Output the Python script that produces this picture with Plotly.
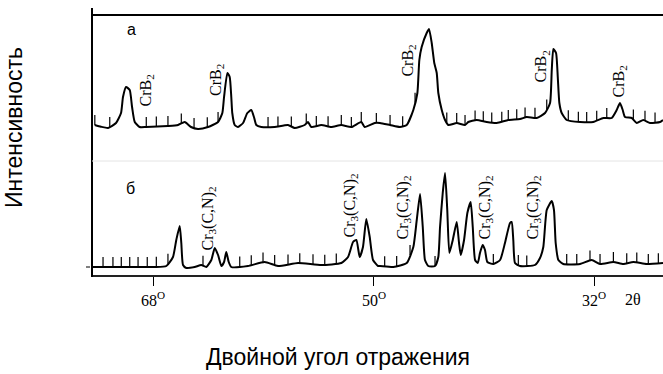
import numpy as np
import plotly.graph_objects as go

# ---- Pattern (а): 2θ, degrees / intensity, arbitrary units ----
two_theta_a = [72.76, 72.25, 71.67, 71.02, 70.61, 70.45, 70.20, 69.90, 69.71, 69.49,
               69.09, 68.57, 66.78, 65.96, 65.41, 64.90, 64.33, 63.51, 62.69, 62.34,
               62.20, 61.93, 61.74, 61.61, 61.53, 61.33, 61.06, 60.65, 60.30, 59.98,
               59.76, 59.57, 59.16, 58.07, 56.98, 56.43, 55.62, 55.35, 55.08, 54.26,
               53.45, 52.63, 51.81, 51.00, 50.72, 49.90, 49.47, 48.65, 47.84, 47.29,
               46.75, 46.42, 46.26, 46.07, 45.66, 45.47, 45.25, 45.04, 44.84, 44.71,
               44.43, 44.16, 43.89, 43.21, 42.53, 42.26, 41.58, 40.76, 39.94, 39.00,
               38.04, 37.49, 36.68, 36.00, 35.59, 35.45, 35.32, 35.10, 34.96, 34.83,
               34.64, 34.23, 33.14, 32.06, 31.24, 30.56, 30.15, 29.88, 29.66, 29.47,
               28.92, 28.51, 27.98, 27.43, 26.61, 26.37]
intensity_a = [0, -1.7, -3, 2, 12, 28, 38, 35, 18, 3,
               -2, -2, -1, 0, 3, -2, -4, -2, 3, 12,
               28, 52, 48, 28, 12, 0, -2, 2, 12, 15,
               8, 0, -2, -2, 0, -3, 0, 3, -2, 0,
               -2, 0, -2, 3, -2, 2, 2, 0, -2, 0,
               15, 32, 65, 78, 92, 96, 82, 62, 52, 32,
               15, 5, 0, 2, 0, 3, 5, 3, 2, 5,
               6, 8, 7, 12, 22, 55, 76, 72, 48, 22,
               12, 5, 3, 3, 7, 7, 15, 22, 15, 8,
               7, 2, 5, 2, 3, 5]

# ---- Pattern (б) ----
two_theta_b = [72.95, 71.67, 70.04, 67.86, 66.91, 66.37, 66.10, 65.82, 65.69, 65.55,
               65.28, 64.60, 64.06, 63.65, 63.24, 62.96, 62.69, 62.42, 62.20, 62.02,
               61.82, 61.61, 60.25, 58.88, 57.80, 56.16, 54.26, 52.63, 52.08, 51.67,
               51.40, 51.13, 50.86, 50.59, 50.31, 50.04, 49.63, 49.47, 48.38, 47.29,
               46.75, 46.47, 46.20, 45.98, 45.80, 45.53, 44.98, 44.71, 44.57, 44.35,
               44.16, 43.98, 43.81, 43.53, 43.21, 43.02, 42.88, 42.61, 42.34, 42.07,
               41.90, 41.71, 41.49, 41.31, 41.09, 40.90, 40.71, 40.22, 39.67, 39.27,
               38.86, 38.72, 38.59, 38.45, 38.04, 36.82, 36.41, 36.14, 35.86, 35.45,
               35.27, 35.13, 34.91, 34.51, 33.14, 32.19, 31.51, 30.42, 29.61, 28.79,
               27.70, 26.37]
intensity_b = [0, 0, 0, 0, 1, 10, 27, 41, 24, 2,
               -1, 0, 2, 0, 7, 19, 12, 1, 5, 15,
               5, 0, 1, 5, 1, 4, 2, 4, 10, 25,
               27, 10, 20, 48, 30, 7, 1, 1, 0, 4,
               20, 47, 73, 40, 7, 1, 1, 10, 40, 74,
               94, 57, 14, 27, 45, 24, 12, 27, 54, 65,
               40, 7, 4, 14, 22, 17, 5, 3, 7, 24,
               44, 45, 27, 4, 1, 2, 9, 20, 57, 66,
               57, 24, 7, 3, 3, 7, 3, 5, 3, 5,
               3, 4]

# Angular scale marks drawn on each pattern
marks_a = [72.75, 71.53, 68.55, 67.73, 66.78, 65.69, 64.65, 63.57, 62.69, 58.61,
           57.80, 56.71, 55.49, 54.67, 53.71, 52.63, 51.81, 51.00, 49.77, 48.65,
           47.62, 46.61, 44.02, 43.21, 42.53, 41.71, 41.04, 40.35, 39.53, 39.00,
           38.31, 37.63, 36.82, 35.86, 34.10, 33.28, 32.60, 31.78, 30.96, 28.79,
           27.84, 27.02]
marks_b = [72.08, 71.27, 70.59, 69.90, 69.22, 68.47, 67.73, 66.78, 63.92, 60.92,
           59.98, 59.02, 58.07, 56.98, 56.02, 54.94, 53.98, 53.04, 49.09, 48.11,
           47.02, 44.98, 40.22, 38.18, 37.49, 34.23, 33.41, 32.33, 31.51, 30.42,
           29.33, 28.51, 27.57, 26.75]
MARK_LEN = 10

# Phase labels: position (2θ) and height of label centre
labels_a_x = [68.57, 62.86, 47.18, 36.25, 29.96]
labels_a_y = [34.5, 45, 64.5, 58.5, 43.5]
labels_a_text = "CrB<sub>2</sub>"
labels_b_x = [63.51, 51.92, 47.59, 40.90, 36.98]
labels_b_y = [48.5, 61.5, 59.5, 59.5, 59.5]
labels_b_text = "Cr<sub>3</sub>(C,N)<sub>2</sub>"

axis_ticks = [68, 50, 32]
axis_tick_text = ["68<sup>O</sup>", "50<sup>O</sup>", "32<sup>O</sup>"]

X_RANGE = [72.98, 26.37]
SPLIT = 114 / 260  # boundary between the two panels (paper units)

SERIF = "Liberation Serif, Times New Roman, serif"
SANS = "Liberation Sans, Arial, sans-serif"


def mark_segments(marks, tt, ii):
    xs = np.asarray(tt)[::-1]
    ys = np.asarray(ii)[::-1]
    mx, my = [], []
    for m in marks:
        base = float(np.interp(m, xs, ys))
        mx += [m, m, None]
        my += [base, base + MARK_LEN, None]
    return mx, my


fig = go.Figure()

line_style = dict(color="black", width=2, shape="spline", smoothing=0.5)
fig.add_trace(go.Scatter(x=two_theta_a, y=intensity_a, mode="lines", line=line_style,
                         xaxis="x", yaxis="y2", hoverinfo="skip"))
fig.add_trace(go.Scatter(x=two_theta_b, y=intensity_b, mode="lines", line=line_style,
                         xaxis="x", yaxis="y", hoverinfo="skip"))

mx, my = mark_segments(marks_a, two_theta_a, intensity_a)
fig.add_trace(go.Scatter(x=mx, y=my, mode="lines", line=dict(color="black", width=1.2),
                         xaxis="x", yaxis="y2", hoverinfo="skip"))
mx, my = mark_segments(marks_b, two_theta_b, intensity_b)
fig.add_trace(go.Scatter(x=mx, y=my, mode="lines", line=dict(color="black", width=1.2),
                         xaxis="x", yaxis="y", hoverinfo="skip"))

annotations = []
for x, y in zip(labels_a_x, labels_a_y):
    annotations.append(dict(x=x, y=y, xref="x", yref="y2", text=labels_a_text,
                            textangle=-90, showarrow=False,
                            font=dict(family=SERIF, size=16, color="black")))
for x, y in zip(labels_b_x, labels_b_y):
    annotations.append(dict(x=x, y=y, xref="x", yref="y", text=labels_b_text,
                            textangle=-90, showarrow=False,
                            font=dict(family=SERIF, size=16, color="black")))
for x, t in zip(axis_ticks, axis_tick_text):
    annotations.append(dict(x=x, y=0, xref="x", yref="paper", yshift=-24, text=t,
                            showarrow=False, yanchor="middle", xanchor="center",
                            font=dict(family=SERIF, size=16, color="black")))
annotations.append(dict(x=(643 - 92) / 571, y=0, xref="paper", yref="paper", yshift=-24,
                        text="2θ", showarrow=False, yanchor="middle",
                        font=dict(family=SERIF, size=16, color="black")))
annotations.append(dict(x=(125 - 92) / 571, y=1, xref="paper", yref="paper", yshift=-14,
                        text="а", showarrow=False, yanchor="middle",
                        font=dict(family=SANS, size=16, color="black")))
annotations.append(dict(x=(124 - 92) / 571, y=SPLIT, xref="paper", yref="paper", yshift=-27,
                        text="б", showarrow=False, yanchor="middle",
                        font=dict(family=SANS, size=16, color="black")))
annotations.append(dict(x=(338 - 92) / 571, y=0, xref="paper", yref="paper", yshift=-82,
                        text="Двойной угол отражения", showarrow=False, yanchor="middle",
                        font=dict(family=SANS, size=23, color="black")))
annotations.append(dict(x=(14 - 92) / 571, y=(275 - 128) / 260, xref="paper", yref="paper",
                        text="Интенсивность", textangle=-90, showarrow=False,
                        xanchor="center", yanchor="middle",
                        font=dict(family=SANS, size=23, color="black")))

shapes = [
    # frame: top edge, left edge, panel divider
    dict(type="line", xref="paper", yref="paper", x0=0, x1=1, y0=1, y1=1,
         line=dict(color="black", width=2)),
    dict(type="line", xref="paper", yref="paper", x0=0, x1=0, y0=-2 / 260, y1=1 + 7 / 260,
         line=dict(color="black", width=2)),
    dict(type="line", xref="paper", yref="paper", x0=0, x1=1, y0=SPLIT, y1=SPLIT,
         line=dict(color="#e4e4e4", width=1)),
    # small mark at the zero level of pattern (б)
    dict(type="line", xref="paper", yref="y", x0=-6 / 571, x1=-2 / 571, y0=0, y1=0,
         line=dict(color="black", width=1)),
]

fig.update_layout(
    width=663, height=374,
    margin=dict(l=92, r=0, t=15, b=99),
    paper_bgcolor="white", plot_bgcolor="white",
    showlegend=False,
    xaxis=dict(range=X_RANGE, tickvals=axis_ticks, ticks="outside", ticklen=9,
               tickwidth=1, tickcolor="black", showticklabels=False, showgrid=False,
               zeroline=False, showline=True, linecolor="#222", linewidth=2,
               anchor="y"),
    yaxis=dict(domain=[0, SPLIT], range=[-8, 106], visible=False),
    yaxis2=dict(domain=[SPLIT, 1], range=[-36, 110], visible=False, anchor="x"),
    annotations=annotations,
    shapes=shapes,
)

fig.write_html("out.html")
